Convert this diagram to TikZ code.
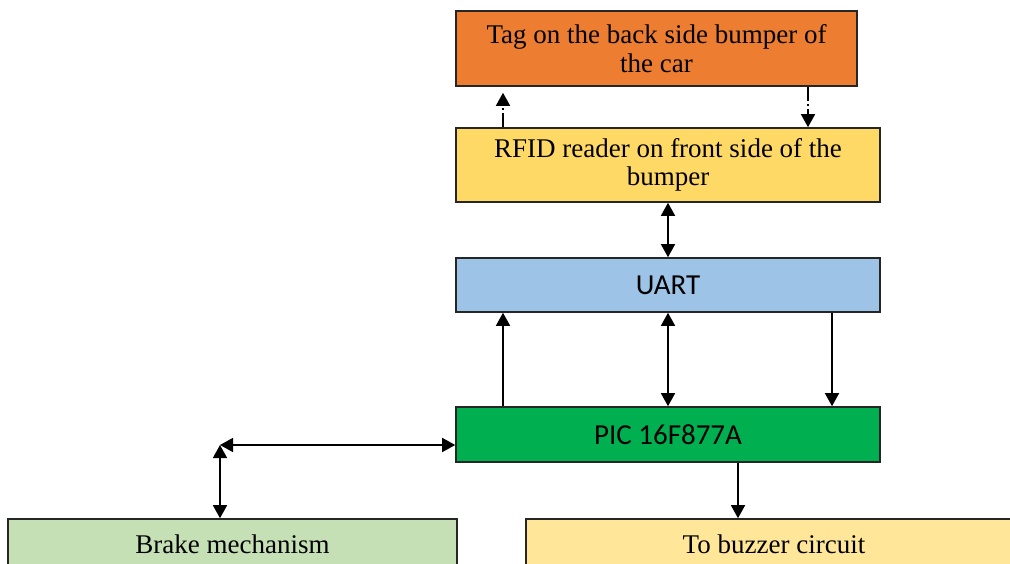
\documentclass[tikz,border=0pt]{standalone}
\usepackage{fontspec}
\setmainfont{Liberation Serif}
\newfontfamily\calibrifont{Carlito}
\usetikzlibrary{arrows.meta}

\definecolor{tagorange}{RGB}{237,125,49}
\definecolor{rfidyellow}{RGB}{255,217,102}
\definecolor{uartblue}{RGB}{157,195,230}
\definecolor{picgreen}{RGB}{0,176,80}
\definecolor{brakegreen}{RGB}{197,224,180}
\definecolor{buzzyellow}{RGB}{255,230,153}

\begin{document}
\begin{tikzpicture}[x=1pt, y=-1pt, line width=1.5pt,
  blockbox/.style={draw=black!85, line width=1.6pt, inner sep=0pt, align=center,
    font=\fontsize{27}{28.5}\selectfont},
  sansbox/.style={blockbox, font=\calibrifont\fontsize{29}{30}\selectfont},
  tip/.style={-{Triangle[width=14pt,length=13pt]}},
  twotip/.style={{Triangle[width=14pt,length=13pt]}-{Triangle[width=14pt,length=13pt]}},
  dashdot/.style={dash pattern=on 14pt off 3pt on 2pt off 3pt}]
\useasboundingbox (0,0) rectangle (1010,564);
\clip (0,0) rectangle (1010,564);

\node[blockbox, fill=tagorange, minimum width=401pt, minimum height=75pt] (tag) at (656.5,48.5) {Tag on the back side bumper of\\the car};
\node[blockbox, fill=rfidyellow, minimum width=424pt, minimum height=74pt] (rfid) at (668,165) {RFID reader on front side of the\\bumper};
\node[sansbox, fill=uartblue, minimum width=424pt, minimum height=54pt] (uart) at (668,285) {UART};
\node[sansbox, fill=picgreen, minimum width=424pt, minimum height=55pt] (pic) at (668,434.5) {PIC 16F877A};
\node[blockbox, fill=brakegreen, minimum width=449pt, minimum height=50pt] (brake) at (232.5,544) {Brake mechanism};
\node[blockbox, fill=buzzyellow, minimum width=496pt, minimum height=50pt] (buzz) at (774,544) {To buzzer circuit};

\coordinate (brk) at (220,445);

\draw[tip, dashdot, shorten >=6pt] (rfid.north -| 503,0) -- (tag.south -| 503,0);
\draw[tip, dashdot] (tag.south -| 808,0) -- (rfid.north -| 808,0);
\draw[twotip] (rfid.south) -- (uart.north);
\draw[tip] (pic.north -| 503,0) -- (uart.south -| 503,0);
\draw[twotip] (pic.north) -- (uart.south);
\draw[tip] (uart.south -| 832,0) -- (pic.north -| 832,0);
\draw[twotip] (brk) -- (brk -| pic.west);
\draw[twotip] (brk) -- (brake.north -| brk);
\draw[tip] (pic.south -| 738,0) -- (buzz.north -| 738,0);

\end{tikzpicture}
\end{document}
